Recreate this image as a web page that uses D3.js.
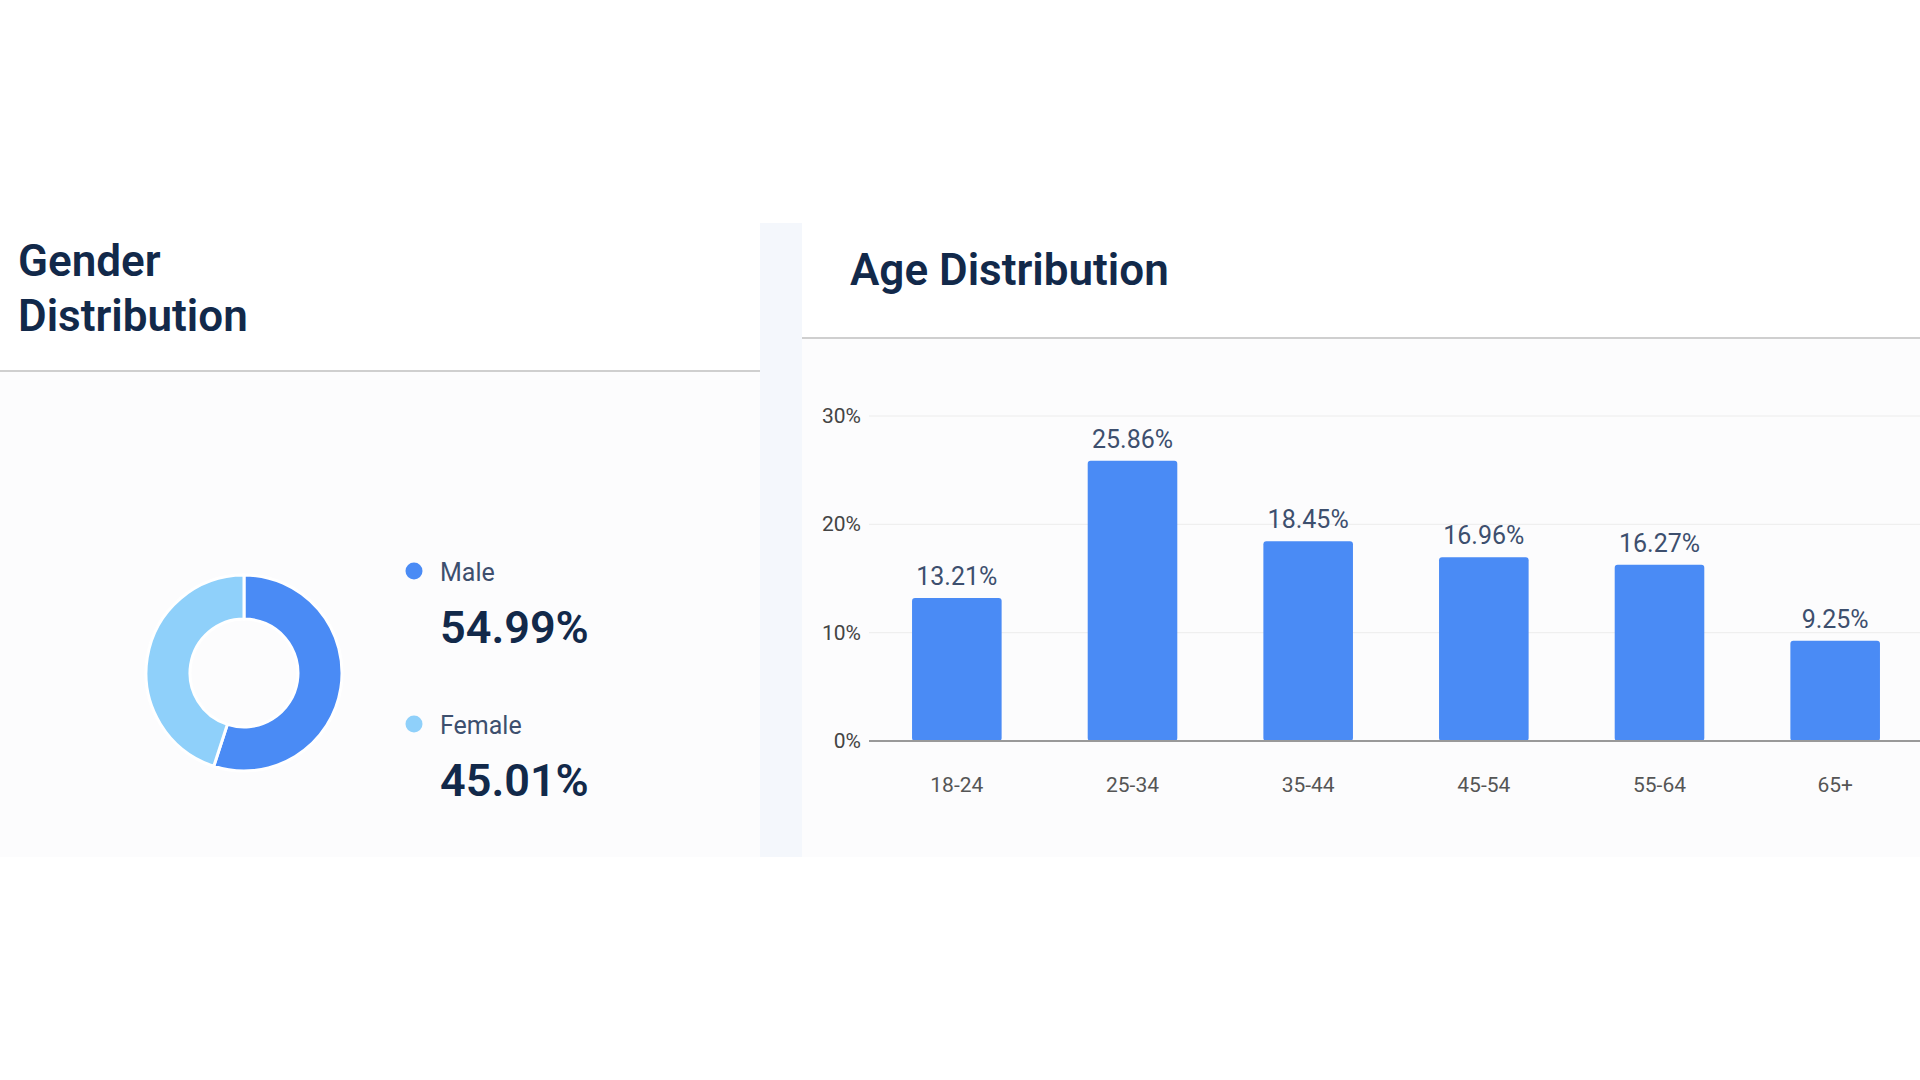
<!DOCTYPE html>
<html><head><meta charset="utf-8">
<script src="https://cdn.jsdelivr.net/npm/d3@7/dist/d3.min.js"></script>
<style>body{margin:0;background:#fff;font-family:Roboto,"Noto Sans",sans-serif}</style>
</head><body><svg id="c" width="1920" height="1080"></svg>
<script>
const genderLabels = ["Male","Female"];
const genderValues = [54.99, 45.01];
const genderColors = ["#4a8bf5","#8fd0fa"];
const ageCategories = ["18-24","25-34","35-44","45-54","55-64","65+"];
const ageValues = [13.21, 25.86, 18.45, 16.96, 16.27, 9.25];
const yTicks = [0,10,20,30];

const svg = d3.select("#c");
const dark = "#12294a";
// panels
svg.append("rect").attr("x",0).attr("y",223).attr("width",760).attr("height",634).attr("fill","#fcfcfd");
svg.append("rect").attr("x",760).attr("y",223).attr("width",42).attr("height",634).attr("fill","#f4f7fc");
svg.append("rect").attr("x",802).attr("y",223).attr("width",1118).attr("height",634).attr("fill","#fcfcfd");
svg.append("rect").attr("x",0).attr("y",223).attr("width",760).attr("height",148).attr("fill","#fff");
svg.append("rect").attr("x",802).attr("y",223).attr("width",1118).attr("height",115).attr("fill","#fff");
svg.append("line").attr("x1",0).attr("x2",760).attr("y1",371).attr("y2",371).attr("stroke","#cfcfcf").attr("stroke-width",2);
svg.append("line").attr("x1",802).attr("x2",1920).attr("y1",338).attr("y2",338).attr("stroke","#cfcfcf").attr("stroke-width",2);

// titles
const t1 = svg.append("text").attr("x",18).attr("fill",dark).attr("font-size",44).attr("font-weight",600);
t1.append("tspan").attr("x",18).attr("y",276).text("Gender");
t1.append("tspan").attr("x",18).attr("y",331).text("Distribution");
svg.append("text").attr("x",850).attr("y",285).attr("fill",dark).attr("font-size",44).attr("font-weight",600).text("Age Distribution");

// donut
const pie = d3.pie().sort(null)(genderValues);
const arc = d3.arc().innerRadius(54).outerRadius(98);
const g = svg.append("g").attr("transform","translate(244,673)");
g.selectAll("path").data(pie).join("path").attr("d",arc)
  .attr("fill",(d,i)=>genderColors[i]).attr("stroke","#fff").attr("stroke-width",3);

// legend
const legY = [571, 724];
genderLabels.forEach((l,i)=>{
  svg.append("circle").attr("cx",414).attr("cy",legY[i]).attr("r",8.5).attr("fill",genderColors[i]);
  svg.append("text").attr("x",440).attr("y",legY[i]+10).attr("font-size",25).attr("fill","#3d4f6e").text(l);
  svg.append("text").attr("x",440).attr("y",legY[i]+72).attr("font-size",45).attr("font-weight",600).attr("fill",dark)
    .text(genderValues[i].toFixed(2)+"%");
});

// bars
const x = d3.scaleBand().domain(ageCategories).range([869,1923]).paddingInner(0.49).paddingOuter(0.245);
const y = d3.scaleLinear().domain([0,30]).range([741,416]);
svg.append("g").selectAll("line").data(yTicks.slice(1)).join("line")
  .attr("x1",869).attr("x2",1920).attr("y1",d=>y(d)).attr("y2",d=>y(d)).attr("stroke","#ececec");
svg.append("g").selectAll("text").data(yTicks).join("text")
  .attr("x",861).attr("y",d=>y(d)+7).attr("text-anchor","end").attr("font-size",21).attr("fill","#444")
  .text(d=>d+"%");
svg.append("g").selectAll("rect").data(ageValues).join("rect")
  .attr("x",(d,i)=>x(ageCategories[i])).attr("width",x.bandwidth())
  .attr("y",d=>y(d)).attr("height",d=>y(0)-y(d)).attr("rx",3).attr("fill","#4a8bf5");
svg.append("line").attr("x1",869).attr("x2",1920).attr("y1",741).attr("y2",741).attr("stroke","#999").attr("stroke-width",2);
svg.append("g").selectAll("text").data(ageValues).join("text")
  .attr("x",(d,i)=>x(ageCategories[i])+x.bandwidth()/2).attr("y",d=>y(d)-13)
  .attr("text-anchor","middle").attr("font-size",25).attr("fill","#3d4f6e").text(d=>d.toFixed(2)+"%");
svg.append("g").selectAll("text").data(ageCategories).join("text")
  .attr("x",d=>x(d)+x.bandwidth()/2).attr("y",792).attr("text-anchor","middle")
  .attr("font-size",21).attr("fill","#555").text(d=>d);
</script></body></html>
